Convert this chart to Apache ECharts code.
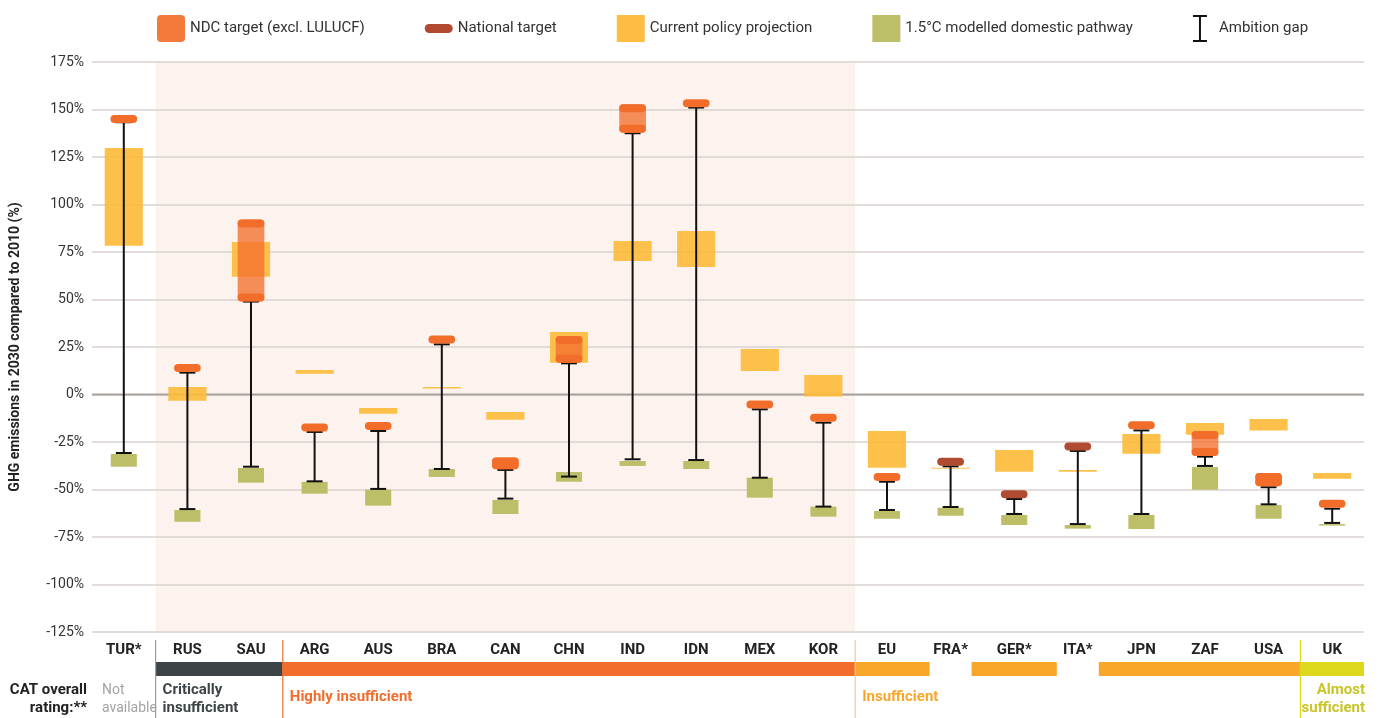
<!DOCTYPE html>
<html><head><meta charset="utf-8">
<script src="https://cdn.jsdelivr.net/npm/echarts@6/dist/echarts.min.js"></script>
<style>html,body{margin:0;padding:0;background:#fff}#c{width:1379px;height:718px}</style>
</head><body><div id="c"></div>
<script>
// ---------- DATA ----------
const categories = ['TUR*','RUS','SAU','ARG','AUS','BRA','CAN','CHN','IND','IDN','MEX','KOR','EU','FRA*','GER*','ITA*','JPN','ZAF','USA','UK'];
const yTicks = [-125,-100,-75,-50,-25,0,25,50,75,100,125,150,175];
const ndcLow  = [145, 14, 51, -17.4, -16.6, 29, -37.3, 18.8, 139.9, 153.3, -5.3, -12.3, -43.4, null, null, null, -16.2, -30.3, -46.2, -57.5];
const ndcHigh = [145, 14, 90, -17.4, -16.6, 29, -35.2, 28.7, 150.6, 153.3, -5.3, -12.3, -43.4, null, null, null, -16.2, -21.3, -43.4, -57.5];
const nationalTarget = [null, null, null, null, null, null, null, null, null, null, null, null, null, -35.4, -52.5, -27.4, null, null, null, null];
const policyLow  = [78.3, -3.3, 62, 10.9, -10.1, 3.1, -13.3, 16.7, 70.3, 67.1, 12.4, -1.1, -38.5, -39.1, -40.6, -40.6, -31.2, -21.2, -19, -44.3];
const policyHigh = [129.7, 3.9, 80.3, 12.9, -7.1, 3.9, -9.2, 32.9, 80.8, 86, 23.9, 10.3, -19.2, -38.5, -29.2, -39.7, -20.8, -15, -12.9, -41.3];
const pathwayLow  = [-38, -67, -46.4, -52.2, -58.5, -43.4, -62.9, -45.9, -37.6, -39.2, -54.3, -64.3, -65.4, -63.8, -68.7, -70.6, -70.8, -50.1, -65.4, -69];
const pathwayHigh = [-31.3, -60.8, -38.7, -46, -50.1, -39.2, -55.5, -40.8, -35, -35, -43.8, -59, -61.3, -59.6, -63.4, -68.7, -63.4, -38.2, -58.2, -68.2];
const gapLow  = [-30.8, -60.3, -38, -45.7, -49.7, -39.2, -54.8, -43.2, -34.1, -34.5, -43.8, -59, -60.8, -59.2, -62.9, -68.2, -62.9, -37.6, -57.8, -67.6];
const gapHigh = [143.3, 11.5, 48.9, -19.7, -19.2, 26.4, -39.7, 16.4, 137.5, 151, -7.8, -14.8, -45.9, -37.8, -55, -29.7, -18.9, -32.7, -48.8, -60.1];
const ratings = ['na','ci','ci','hi','hi','hi','hi','hi','hi','hi','hi','hi','in',null,'in',null,'in','in','in','as'];
const shadedRange = ['RUS','KOR'];
const ratingNames = {na:'Not\navailable', ci:'Critically\ninsufficient', hi:'Highly insufficient', in:'Insufficient', as:'Almost\nsufficient'};

// ---------- STYLE ----------
const FONT = 'Roboto, "Noto Sans", sans-serif';
const ratingStyle = {
  na:{bar:null, text:'#a3a3a3', line:null, weight:'normal', size:14},
  ci:{bar:'#3d4448', text:'#3d4448', line:'#9c9c9c', weight:'bold', size:15},
  hi:{bar:'#f26d2b', text:'#f26d2b', line:'#f26d2b', weight:'bold', size:15},
  in:{bar:'#f9a72a', text:'#f9a72a', line:'#f9c68a', weight:'bold', size:15},
  as:{bar:'#dfd91e', text:'#c9c42a', line:'#dfd91e', weight:'bold', size:15, right:true}
};
const C_NDC = '#f26c2a', C_NDC_BODY = 'rgba(242,112,48,0.78)', C_NAT = '#b04b31',
      C_CPP = 'rgba(253,186,55,0.9)', C_PATH = '#bcbf68';

function rangeData(lo, hi){
  return categories.map((c,i)=> lo[i]==null ? null : [i, lo[i], hi[i]]).filter(Boolean);
}

function boxRender(frac, fill){
  return function(params, api){
    const i = api.value(0), lo = api.value(1), hi = api.value(2);
    const ph = api.coord([i, hi]), pl = api.coord([i, lo]);
    const w = api.size([1,0])[0]*frac;
    return {type:'rect', shape:{x:ph[0]-w/2, y:ph[1], width:w, height:Math.max(pl[1]-ph[1],1.2)}, style:{fill}};
  };
}
function pillRender(frac, capColor, bodyColor){
  return function(params, api){
    const i = api.value(0), lo = api.value(1), hi = api.value(2);
    const ph = api.coord([i, hi]), pl = api.coord([i, lo]);
    const w = api.size([1,0])[0]*frac, x = ph[0]-w/2, cap = 8;
    const ch = [];
    if (pl[1]-ph[1] > 0.5){
      ch.push({type:'rect', shape:{x, y:ph[1]-cap/2, width:w, height:pl[1]-ph[1]+cap, r:4}, style:{fill:bodyColor}});
      ch.push({type:'rect', shape:{x, y:pl[1]-cap/2, width:w, height:cap, r:4}, style:{fill:capColor}});
    }
    ch.push({type:'rect', shape:{x, y:ph[1]-cap/2, width:w, height:cap, r:4}, style:{fill:capColor}});
    return {type:'group', children:ch};
  };
}
function gapRender(params, api){
  const i = api.value(0), lo = api.value(1), hi = api.value(2);
  const ph = api.coord([i, hi]), pl = api.coord([i, lo]);
  const w = api.size([1,0])[0]*0.25, x = ph[0];
  const st = {stroke:'#111', lineWidth:2};
  return {type:'group', children:[
    {type:'line', shape:{x1:x, y1:ph[1], x2:x, y2:pl[1]}, style:st},
    {type:'line', shape:{x1:x-w/2, y1:ph[1], x2:x+w/2, y2:ph[1]}, style:st},
    {type:'line', shape:{x1:x-w/2, y1:pl[1], x2:x+w/2, y2:pl[1]}, style:st}
  ]};
}
function shadeRender(params, api){
  const a = api.value(0), b = api.value(1);
  const bw = api.size([1,0])[0];
  const pa = api.coord([a, 0]), pb = api.coord([b, 0]);
  const cs = params.coordSys;
  return {type:'rect', shape:{x:pa[0]-bw/2, y:cs.y, width:pb[0]-pa[0]+bw, height:cs.height}, style:{fill:'#fcf3ee'}};
}
function zeroRender(params, api){
  const cs = params.coordSys; const p = api.coord([0, 0]);
  return {type:'line', shape:{x1:cs.x, y1:p[1], x2:cs.x+cs.width, y2:p[1]}, style:{stroke:'#aaa29e', lineWidth:2}};
}
// one item per contiguous run of same rating
function ratingRuns(){
  const runs = [];
  for (let i=0;i<ratings.length;i++){
    const r = ratings[i];
    if (r==null) continue;
    if (runs.length && runs[runs.length-1].r===r && runs[runs.length-1].e===i-1) runs[runs.length-1].e=i;
    else runs.push({r, s:i, e:i});
  }
  return runs.map(o=>[o.s, o.e]);
}
function ratingRender(params, api){
  const s0 = api.value(0), e0 = api.value(1); const r = ratings[s0];
  const cs = params.coordSys; const bottom = cs.y + cs.height;
  const bw = api.size([1,0])[0];
  const cs0 = api.coord([s0, 0])[0], ce0 = api.coord([e0, 0])[0];
  const ch = [];
  const s = ratingStyle[r];
  let x0 = cs0 - bw/2, x1 = ce0 + bw/2;
  if (s0>0 && ratings[s0-1]===null) x0 -= bw*0.17;
  if (e0<ratings.length-1 && ratings[e0+1]===null) x1 += bw*0.17;
  if (s.bar) ch.push({type:'rect', shape:{x:x0, y:bottom+30, width:x1-x0, height:14}, style:{fill:s.bar}});
  if (ratings.indexOf(r) === s0){
    if (s.line) ch.push({type:'line', shape:{x1:cs0-bw/2, y1:bottom+8, x2:cs0-bw/2, y2:bottom+86}, style:{stroke:s.line, lineWidth:1.2}});
    const two = ratingNames[r].indexOf('\n')>=0;
    ch.push({type:'text', style:{
      text:ratingNames[r], x: s.right ? ce0+bw/2+1 : cs0-bw/2+(r==='na'?10:7), y: bottom + (two?67:65),
      fill:s.text, font:`${s.weight} ${s.size}px ${FONT}`, align: s.right?'right':'left', verticalAlign:'middle', lineHeight:18
    }});
  }
  return {type:'group', children:ch};
}

const chart = echarts.init(document.getElementById('c'), null, {renderer:'canvas'});
const pillPath = 'path://M4,0 H24 A4,4 0 0 1 28,4 V23 A4,4 0 0 1 24,27 H4 A4,4 0 0 1 0,23 V4 A4,4 0 0 1 4,0 Z';
const natPath = 'path://M4,0 H21 A4,4 0 0 1 21,8 H4 A4,4 0 0 1 4,0 Z';
const beamPath = 'path://M0,0 H14 V2 H8 V25 H14 V27 H0 V25 H6 V2 H0 Z';
chart.setOption({
  animation:false,
  backgroundColor:'#fff',
  textStyle:{fontFamily:FONT},
  legend:{
    top:10, left:152, itemGap:60, itemWidth:28, itemHeight:27,
    textStyle:{fontSize:15, color:'#333', fontFamily:FONT},
    selectedMode:false,
    data:[
      {name:'NDC target (excl. LULUCF)', icon:pillPath, itemStyle:{color:'#f47a3c'}},
      {name:'National target', icon:natPath, itemStyle:{color:C_NAT}},
      {name:'Current policy projection', icon:'rect', itemStyle:{color:'#fdbd45'}},
      {name:'1.5°C modelled domestic pathway', icon:'rect', itemStyle:{color:C_PATH}},
      {name:'Ambition gap', icon:beamPath, itemStyle:{color:'#111'}}
    ]
  },
  grid:{left:92, right:15, top:62, bottom:86, containLabel:false},
  xAxis:{type:'category', data:categories, boundaryGap:true,
    axisLine:{show:false}, axisTick:{show:false}, splitLine:{show:false},
    axisLabel:{fontSize:15, fontWeight:'bold', color:'#222', margin:11, fontFamily:FONT, interval:0}},
  yAxis:{type:'value', min:yTicks[0], max:yTicks[yTicks.length-1], interval:25,
    name:'GHG emissions in 2030 compared to 2010 (%)', nameLocation:'middle', nameGap:70,
    nameTextStyle:{fontSize:14, fontWeight:'bold', color:'#222', fontFamily:FONT},
    axisLine:{show:false}, axisTick:{show:false},
    axisLabel:{formatter:'{value}%', fontSize:14, color:'#333', margin:8, fontFamily:FONT},
    splitLine:{lineStyle:{color:'#d8d2cf', width:1.6}}},
  series:[
    {name:'shade', type:'custom', z:-1, silent:true, renderItem:shadeRender,
      data:[[categories.indexOf(shadedRange[0]), categories.indexOf(shadedRange[1])]], encode:{x:[0,1]}},
    {name:'zero', type:'custom', z:1, silent:true, renderItem:zeroRender, data:[[0,0]], encode:{x:0,y:1}},
    {name:'Current policy projection', type:'custom', z:2, renderItem:boxRender(0.6, C_CPP), data:rangeData(policyLow, policyHigh), encode:{x:0,y:[1,2]}, itemStyle:{color:'#fdbd45'}},
    {name:'1.5°C modelled domestic pathway', type:'custom', z:3, renderItem:boxRender(0.41, C_PATH), data:rangeData(pathwayLow, pathwayHigh), encode:{x:0,y:[1,2]}, itemStyle:{color:C_PATH}},
    {name:'Ambition gap', type:'custom', z:4, renderItem:gapRender, data:rangeData(gapLow, gapHigh), encode:{x:0,y:[1,2]}, itemStyle:{color:'#111'}},
    {name:'NDC target (excl. LULUCF)', type:'custom', z:5, renderItem:pillRender(0.42, C_NDC, C_NDC_BODY), data:rangeData(ndcLow, ndcHigh), encode:{x:0,y:[1,2]}, itemStyle:{color:C_NDC}},
    {name:'National target', type:'custom', z:5, renderItem:pillRender(0.42, C_NAT, C_NAT), data:rangeData(nationalTarget, nationalTarget), encode:{x:0,y:[1,2]}, itemStyle:{color:C_NAT}},
    {name:'ratings', type:'custom', z:2, silent:true, renderItem:ratingRender, data:ratingRuns(), encode:{x:[0,1]}}
  ],
  graphic:[
    {type:'text', x:87, y:699, style:{text:'CAT overall\nrating:**', fill:'#222', font:`bold 15px ${FONT}`, align:'right', verticalAlign:'middle', lineHeight:18}}
  ]
});
</script></body></html>
